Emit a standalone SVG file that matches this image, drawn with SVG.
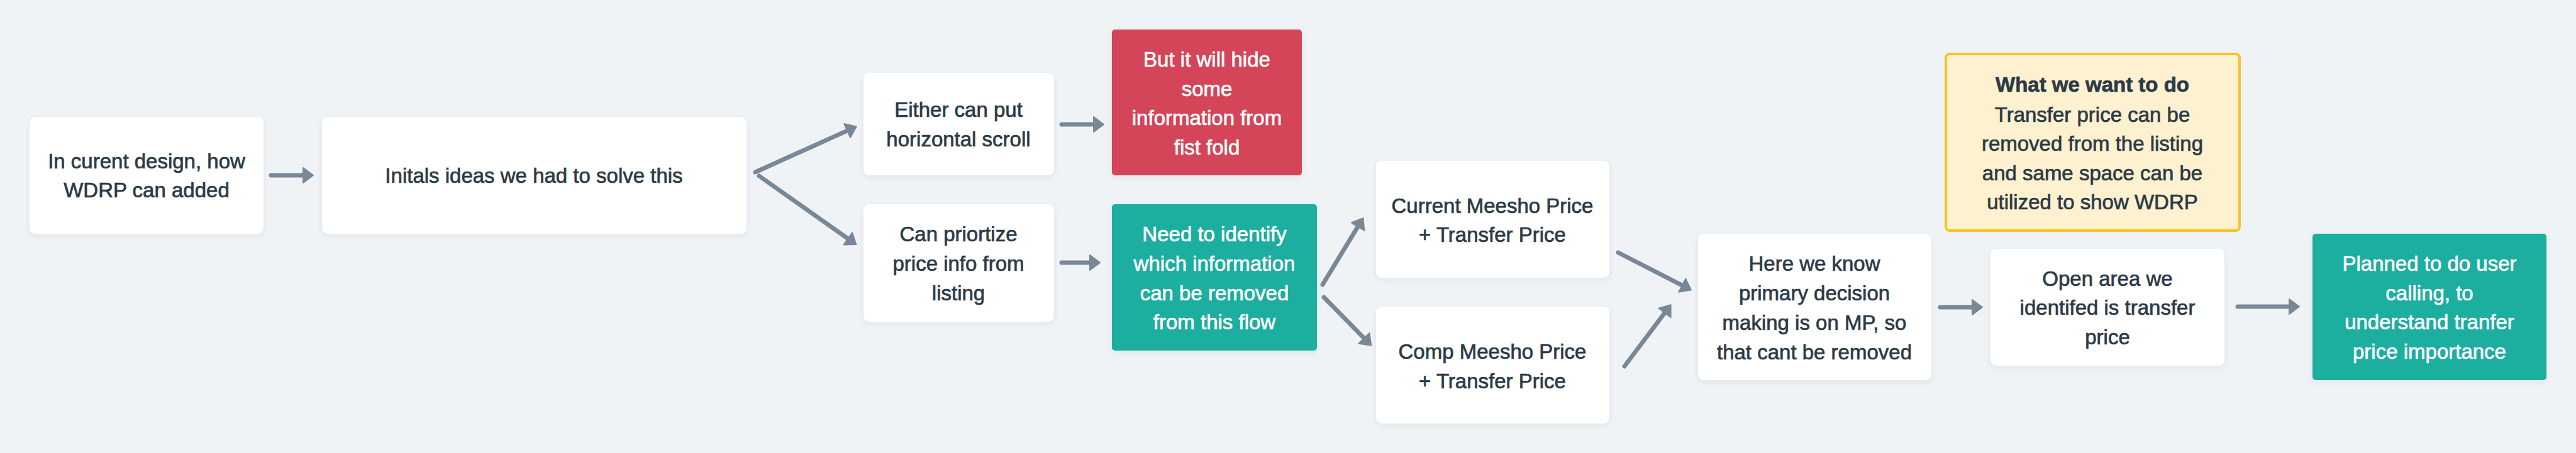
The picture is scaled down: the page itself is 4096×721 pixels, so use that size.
<svg xmlns="http://www.w3.org/2000/svg" width="4096" height="721" viewBox="0 0 4096 721">
<defs>
<filter id="sh" x="-10%" y="-10%" width="120%" height="130%">
<feDropShadow dx="0" dy="3" stdDeviation="4" flood-color="#2b3a4a" flood-opacity="0.07"/>
</filter>
<marker id="ah" markerUnits="userSpaceOnUse" markerWidth="20" markerHeight="28" refX="2" refY="13" orient="auto">
<path d="M1,1 L17,13 L1,25 z" fill="#788896" stroke="#788896" stroke-width="2" stroke-linejoin="round"/>
</marker>
</defs>
<style>
text{font-family:"Liberation Sans",Arial,sans-serif;font-size:33px;text-anchor:middle;stroke-width:0.7px}
.d{fill:#2b3a47;stroke:#2b3a47}
.w{fill:#ffffff;stroke:#ffffff}
.b{font-weight:bold}
.box{fill:#ffffff;filter:url(#sh)}
.red{fill:#d4455a;filter:url(#sh)}
.teal{fill:#1aae9f;filter:url(#sh)}
.yel{fill:#fdf1cf;stroke:#f7c325;stroke-width:4}
.c line{stroke:#788896;stroke-width:7;stroke-linecap:round;marker-end:url(#ah)}
</style>
<rect width="4096" height="721" fill="#f0f3f6"/>
<g class="c" id="connectors">
<line x1="431" y1="279" x2="483" y2="279"/>
<line x1="1201" y1="274" x2="1348" y2="207.6"/>
<line x1="1207" y1="280" x2="1349" y2="380.4"/>
<line x1="1688" y1="198" x2="1740" y2="198"/>
<line x1="1688" y1="418" x2="1734" y2="418"/>
<line x1="2103" y1="453" x2="2159.6" y2="359.9"/>
<line x1="2105" y1="473" x2="2169.7" y2="539"/>
<line x1="2573" y1="402" x2="2675.6" y2="454.6"/>
<line x1="2583" y1="583" x2="2647.6" y2="497.2"/>
<line x1="3085" y1="489" x2="3137" y2="489"/>
<line x1="3558" y1="488" x2="3641" y2="488"/>
</g>
<g id="n1"><rect class="box" x="47" y="186" width="372" height="186" rx="9"/>
<text class="d" x="233" y="268">In curent design, how</text><text class="d" x="233" y="314">WDRP can added</text></g>
<g id="n2"><rect class="box" x="512" y="186" width="675" height="186" rx="9"/>
<text class="d" x="849" y="291">Initals ideas we had to solve this</text></g>
<g id="n3"><rect class="box" x="1373" y="116" width="303" height="163" rx="9"/>
<text class="d" x="1524" y="186">Either can put</text><text class="d" x="1524" y="233">horizontal scroll</text></g>
<g id="n4"><rect class="red" x="1768" y="47" width="302" height="232" rx="5"/>
<text class="w" x="1919" y="106">But it will hide</text><text class="w" x="1919" y="153">some</text><text class="w" x="1919" y="199">information from</text><text class="w" x="1919" y="246">fist fold</text></g>
<g id="n5"><rect class="box" x="1373" y="325" width="303" height="187" rx="9"/>
<text class="d" x="1524" y="384">Can priortize</text><text class="d" x="1524" y="431">price info from</text><text class="d" x="1524" y="478">listing</text></g>
<g id="n6"><rect class="teal" x="1768" y="325" width="326" height="233" rx="5"/>
<text class="w" x="1931" y="384">Need to identify</text><text class="w" x="1931" y="431">which information</text><text class="w" x="1931" y="478">can be removed</text><text class="w" x="1931" y="524">from this flow</text></g>
<g id="n7"><rect class="box" x="2188" y="256" width="371" height="186" rx="9"/>
<text class="d" x="2373" y="339">Current Meesho Price</text><text class="d" x="2373" y="385">+ Transfer Price</text></g>
<g id="n8"><rect class="box" x="2188" y="488" width="371" height="186" rx="9"/>
<text class="d" x="2373" y="571">Comp Meesho Price</text><text class="d" x="2373" y="618">+ Transfer Price</text></g>
<g id="n9"><rect class="box" x="2700" y="372" width="371" height="233" rx="9"/>
<text class="d" x="2885" y="431">Here we know</text><text class="d" x="2885" y="478">primary decision</text><text class="d" x="2885" y="525">making is on MP, so</text><text class="d" x="2885" y="572">that cant be removed</text></g>
<g id="n10"><rect class="yel" x="3094" y="86" width="467" height="281" rx="6"/>
<text class="d b" x="3327" y="146">What we want to do</text><text class="d" x="3327" y="194">Transfer price can be</text><text class="d" x="3327" y="240">removed from the listing</text><text class="d" x="3327" y="287">and same space can be</text><text class="d" x="3327" y="333">utilized to show WDRP</text></g>
<g id="n11"><rect class="box" x="3165" y="396" width="372" height="186" rx="9"/>
<text class="d" x="3351" y="455">Open area we</text><text class="d" x="3351" y="501">identifed is transfer</text><text class="d" x="3351" y="548">price</text></g>
<g id="n12"><rect class="teal" x="3677" y="372" width="372" height="233" rx="5"/>
<text class="w" x="3863" y="431">Planned to do user</text><text class="w" x="3863" y="478">calling, to</text><text class="w" x="3863" y="524">understand tranfer</text><text class="w" x="3863" y="571">price importance</text></g>
</svg>
